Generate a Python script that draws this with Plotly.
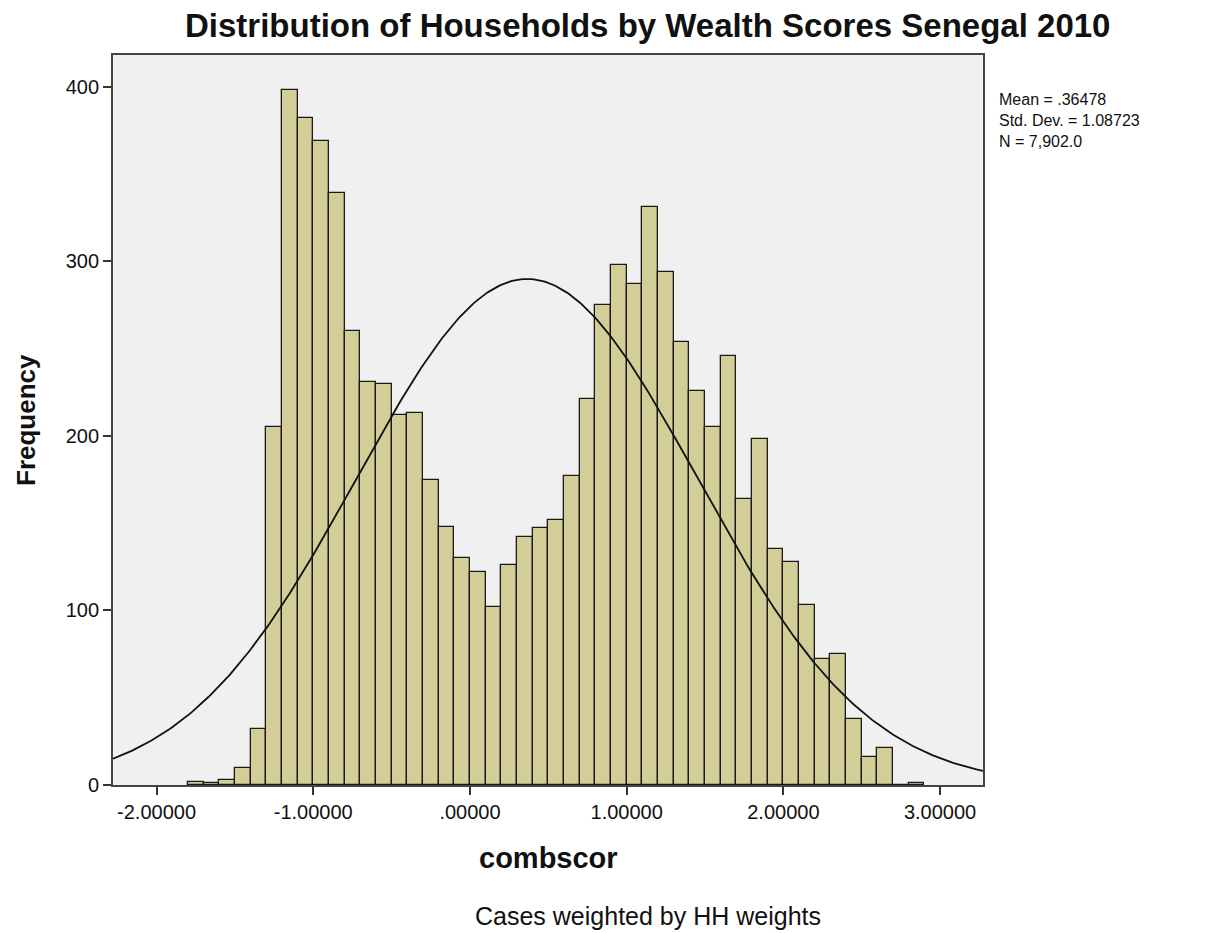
import numpy as np
import plotly.graph_objects as go

# ---- data ----
bin_start = -1.8
bin_width = 0.1
counts = [2, 1, 3, 10, 32,
          205, 398, 382, 369, 339, 260, 231, 230, 212, 213,
          175, 148, 130, 122, 102, 126, 142, 147, 152, 177,
          221, 275, 298, 287, 331, 294, 254, 226, 205, 246,
          164, 198, 135, 128, 103, 72, 75, 38, 16, 21,
          0, 1]
mean = 0.36478
std = 1.08723
n_total = 7902.0
x_tickvals = [-2, -1, 0, 1, 2, 3]
x_ticktext = ["-2.00000", "-1.00000", ".00000", "1.00000", "2.00000", "3.00000"]
y_tickvals = [0, 100, 200, 300, 400]
stats_lines = ["Mean = .36478", "Std. Dev. = 1.08723", "N = 7,902.0"]

centers = [bin_start + bin_width * (i + 0.5) for i in range(len(counts))]

x_min, x_max = -2.278, 3.274
y_max = 418.3

xc = np.linspace(x_min, x_max, 400)
yc = n_total * bin_width / (std * np.sqrt(2 * np.pi)) * np.exp(-0.5 * ((xc - mean) / std) ** 2)

font = "Liberation Sans, Arial, sans-serif"
OFF = 8  # page body margin
L, T, PW, PH = 105, 47, 870, 730
W, H = 1198, 925


def px(x):
    return (x - OFF - L) / PW


def py(y):
    return 1 - (y - OFF - T) / PH


fig = go.Figure()
fig.add_trace(go.Bar(
    x=centers, y=counts, width=bin_width,
    marker=dict(color="#D3CE97", line=dict(color="#1a1a1a", width=1.3)),
    showlegend=False, hoverinfo="x+y"))
fig.add_trace(go.Scatter(
    x=xc, y=yc, mode="lines", line=dict(color="#111111", width=1.8),
    showlegend=False, hoverinfo="skip"))

fig.update_layout(
    width=W, height=H,
    margin=dict(l=L, r=W - L - PW, t=T, b=H - T - PH),
    paper_bgcolor="white", plot_bgcolor="#F0F0F0",
    font=dict(family=font, color="#111111", size=20),
    bargap=0,
)
fig.update_xaxes(range=[x_min, x_max], tickvals=x_tickvals, ticktext=x_ticktext,
                 ticks="outside", ticklen=8, tickwidth=1.6, tickcolor="#333333",
                 showgrid=False, zeroline=False,
                 showline=True, linecolor="#444444", linewidth=1.8, mirror=True,
                 tickfont=dict(size=20, family=font, color="#111111"))
fig.update_yaxes(range=[0, y_max], tickvals=y_tickvals,
                 ticks="outside", ticklen=8, tickwidth=1.6, tickcolor="#333333",
                 showgrid=False, zeroline=False,
                 showline=True, linecolor="#444444", linewidth=1.8, mirror=True,
                 tickfont=dict(size=20, family=font, color="#111111"))

anns = [
    ("<b>Distribution of Households by Wealth Scores Senegal 2010</b>", 647, 25, 33),
    ("<b>combscor</b>", 548, 858, 29),
    ("Cases weighted by HH weights", 648, 916, 25),
]
for text, x, y, size in anns:
    fig.add_annotation(text=text, xref="paper", yref="paper", x=px(x), y=py(y),
                       xanchor="center", yanchor="middle", showarrow=False,
                       font=dict(size=size, family=font, color="#111111"))
fig.add_annotation(text="<b>Frequency</b>", xref="paper", yref="paper",
                   x=px(26), y=py(420), textangle=-90,
                   xanchor="center", yanchor="middle", showarrow=False,
                   font=dict(size=26, family=font, color="#111111"))
fig.add_annotation(text="<br>".join(stats_lines), xref="paper", yref="paper",
                   x=px(997), y=py(120),
                   xanchor="left", yanchor="middle", align="left", showarrow=False,
                   font=dict(size=16, family=font, color="#111111"))

fig.write_html("out.html")
